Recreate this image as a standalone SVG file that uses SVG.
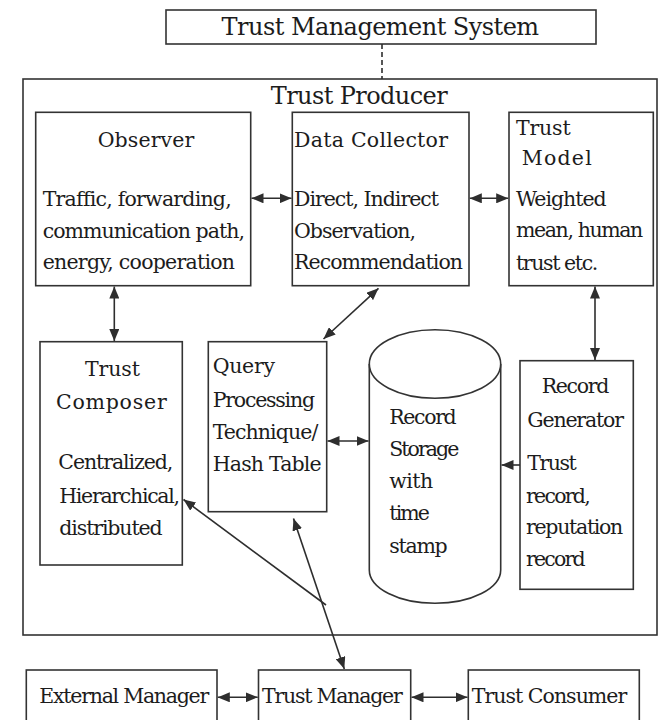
<svg xmlns="http://www.w3.org/2000/svg" width="665" height="720" viewBox="0 0 665 720">
  <defs>
    <style>
      .box { fill: #ffffff; stroke: #333333; stroke-width: 1.6; }
      .frame { fill: none; stroke: #333333; stroke-width: 1.6; }
      .t { font-size: 20.5px; fill: #1c1c1c; }
      .h { font-size: 24px; fill: #1c1c1c; }
      .link { fill: none; stroke: #2e2e2e; stroke-width: 1.6; }
      .dual { marker-start: url(#head); marker-end: url(#head); }
      .one { marker-end: url(#head); }
    </style>
    <marker id="head" viewBox="0 0 12 10" refX="12" refY="5" markerWidth="12" markerHeight="10" markerUnits="userSpaceOnUse" orient="auto-start-reverse">
      <path d="M0,0 L12,5 L0,10 Z" fill="#2e2e2e"/>
    </marker>
  </defs>

  <rect width="665" height="720" fill="#ffffff"/>

  <g font-family="DejaVu Serif, serif">
  <!-- system header and producer frame -->
  <g id="trust-management-system">
    <rect class="box" x="166" y="10" width="430" height="34"/>
    <text class="h" x="221.6" y="35" textLength="317.5" lengthAdjust="spacing">Trust Management System</text>
  </g>
  <g id="trust-producer">
    <rect class="frame" x="23" y="79" width="634" height="556"/>
    <text class="h" x="270.7" y="104" textLength="177" lengthAdjust="spacing">Trust Producer</text>
  </g>

  <g id="observer">
    <rect class="box" x="35.7" y="112.3" width="215" height="173.4"/>
    <text class="t" x="97.7" y="146.5" textLength="96.6" lengthAdjust="spacing">Observer</text>
    <text class="t" x="42.7" y="206" textLength="189" lengthAdjust="spacing">Traffic, forwarding,</text>
    <text class="t" x="42.7" y="237.5" textLength="202.3" lengthAdjust="spacing">communication path,</text>
    <text class="t" x="42.7" y="269" textLength="192.3" lengthAdjust="spacing">energy, cooperation</text>
  </g>

  <g id="data-collector">
    <rect class="box" x="292.3" y="112.3" width="176.7" height="173.4"/>
    <text class="t" x="294" y="146.5" textLength="154" lengthAdjust="spacing">Data Collector</text>
    <text class="t" x="294" y="206" textLength="145" lengthAdjust="spacing">Direct, Indirect</text>
    <text class="t" x="294" y="237.5" textLength="122" lengthAdjust="spacing">Observation,</text>
    <text class="t" x="294" y="269" textLength="169" lengthAdjust="spacing">Recommendation</text>
  </g>

  <g id="trust-model">
    <rect class="box" x="509" y="112.3" width="144.3" height="173.4"/>
    <text class="t" x="516" y="134.5" textLength="54.7" lengthAdjust="spacing">Trust</text>
    <text class="t" x="521.7" y="164.5" textLength="70" lengthAdjust="spacing">Model</text>
    <text class="t" x="516" y="205.5" textLength="90.7" lengthAdjust="spacing">Weighted</text>
    <text class="t" x="516" y="237" textLength="127.3" lengthAdjust="spacing">mean, human</text>
    <text class="t" x="516" y="269.5" textLength="82.3" lengthAdjust="spacing">trust etc.</text>
  </g>

  <g id="trust-composer">
    <rect class="box" x="40" y="341.7" width="142.3" height="223.3"/>
    <text class="t" x="85" y="375.5" textLength="55" lengthAdjust="spacing">Trust</text>
    <text class="t" x="56" y="409.3" textLength="110.7" lengthAdjust="spacing">Composer</text>
    <text class="t" x="58.3" y="469" textLength="115" lengthAdjust="spacing">Centralized,</text>
    <text class="t" x="59.3" y="503.3" textLength="120.7" lengthAdjust="spacing">Hierarchical,</text>
    <text class="t" x="59.3" y="535" textLength="103.4" lengthAdjust="spacing">distributed</text>
  </g>

  <g id="query-processing">
    <rect class="box" x="208.3" y="341.7" width="118.4" height="170"/>
    <text class="t" x="212.7" y="373.3" textLength="62.3" lengthAdjust="spacing">Query</text>
    <text class="t" x="212.7" y="406.5" textLength="102.3" lengthAdjust="spacing">Processing</text>
    <text class="t" x="212.7" y="439" textLength="105.6" lengthAdjust="spacing">Technique/</text>
    <text class="t" x="212.7" y="470.5" textLength="109" lengthAdjust="spacing">Hash Table</text>
  </g>

  <g id="record-storage">
    <path class="box" d="M369.3,364 V570 A65.7,33.3 0 0 0 500.7,570 V364"/>
    <ellipse class="box" cx="435" cy="364" rx="65.7" ry="34.2"/>
    <text class="t" x="389.3" y="424" textLength="67.4" lengthAdjust="spacing">Record</text>
    <text class="t" x="389.3" y="456" textLength="70" lengthAdjust="spacing">Storage</text>
    <text class="t" x="389.3" y="488" textLength="44" lengthAdjust="spacing">with</text>
    <text class="t" x="389.3" y="520" textLength="40.7" lengthAdjust="spacing">time</text>
    <text class="t" x="389.3" y="553" textLength="58.4" lengthAdjust="spacing">stamp</text>
  </g>

  <g id="record-generator">
    <rect class="box" x="520" y="360.7" width="113.3" height="228.6"/>
    <text class="t" x="541.7" y="393.3" textLength="67.6" lengthAdjust="spacing">Record</text>
    <text class="t" x="527.3" y="427.3" textLength="96.7" lengthAdjust="spacing">Generator</text>
    <text class="t" x="527.3" y="470" textLength="49.4" lengthAdjust="spacing">Trust</text>
    <text class="t" x="526" y="502.5" textLength="64.7" lengthAdjust="spacing">record,</text>
    <text class="t" x="526" y="533.5" textLength="97.3" lengthAdjust="spacing">reputation</text>
    <text class="t" x="526" y="565.5" textLength="59.7" lengthAdjust="spacing">record</text>
  </g>

  <g id="external-manager">
    <rect class="box" x="26.3" y="670" width="190.7" height="60"/>
    <text class="t" x="39.3" y="702.5" textLength="170" lengthAdjust="spacing">External Manager</text>
  </g>
  <g id="trust-manager">
    <rect class="box" x="258.5" y="670" width="152.2" height="60"/>
    <text class="t" x="262" y="702.5" textLength="140.8" lengthAdjust="spacing">Trust Manager</text>
  </g>
  <g id="trust-consumer">
    <rect class="box" x="468.3" y="670" width="171" height="60"/>
    <text class="t" x="471.7" y="702.5" textLength="155.6" lengthAdjust="spacing">Trust Consumer</text>
  </g>
  </g>

  <!-- connectors -->
  <g id="connectors">
    <path class="link" d="M382,44 V79" stroke-dasharray="5,3"/>
    <path class="link dual" d="M251.5,198.3 H291.5"/>
    <path class="link dual" d="M469.8,198.3 H508.2"/>
    <path class="link dual" d="M114.3,286.5 V341"/>
    <path class="link dual" d="M323.5,339 L378.5,288.3"/>
    <path class="link dual" d="M595,286.5 V360"/>
    <path class="link dual" d="M327.5,441 H368.5"/>
    <path class="link one" d="M520,465 H501.5"/>
    <path class="link dual" d="M293.5,518.5 L344.3,669"/>
    <path class="link one" d="M326,605 L183.5,499.5"/>
    <path class="link dual" d="M217.8,697.3 H257.7"/>
    <path class="link dual" d="M411.5,697.3 H467.5"/>
  </g>
</svg>
